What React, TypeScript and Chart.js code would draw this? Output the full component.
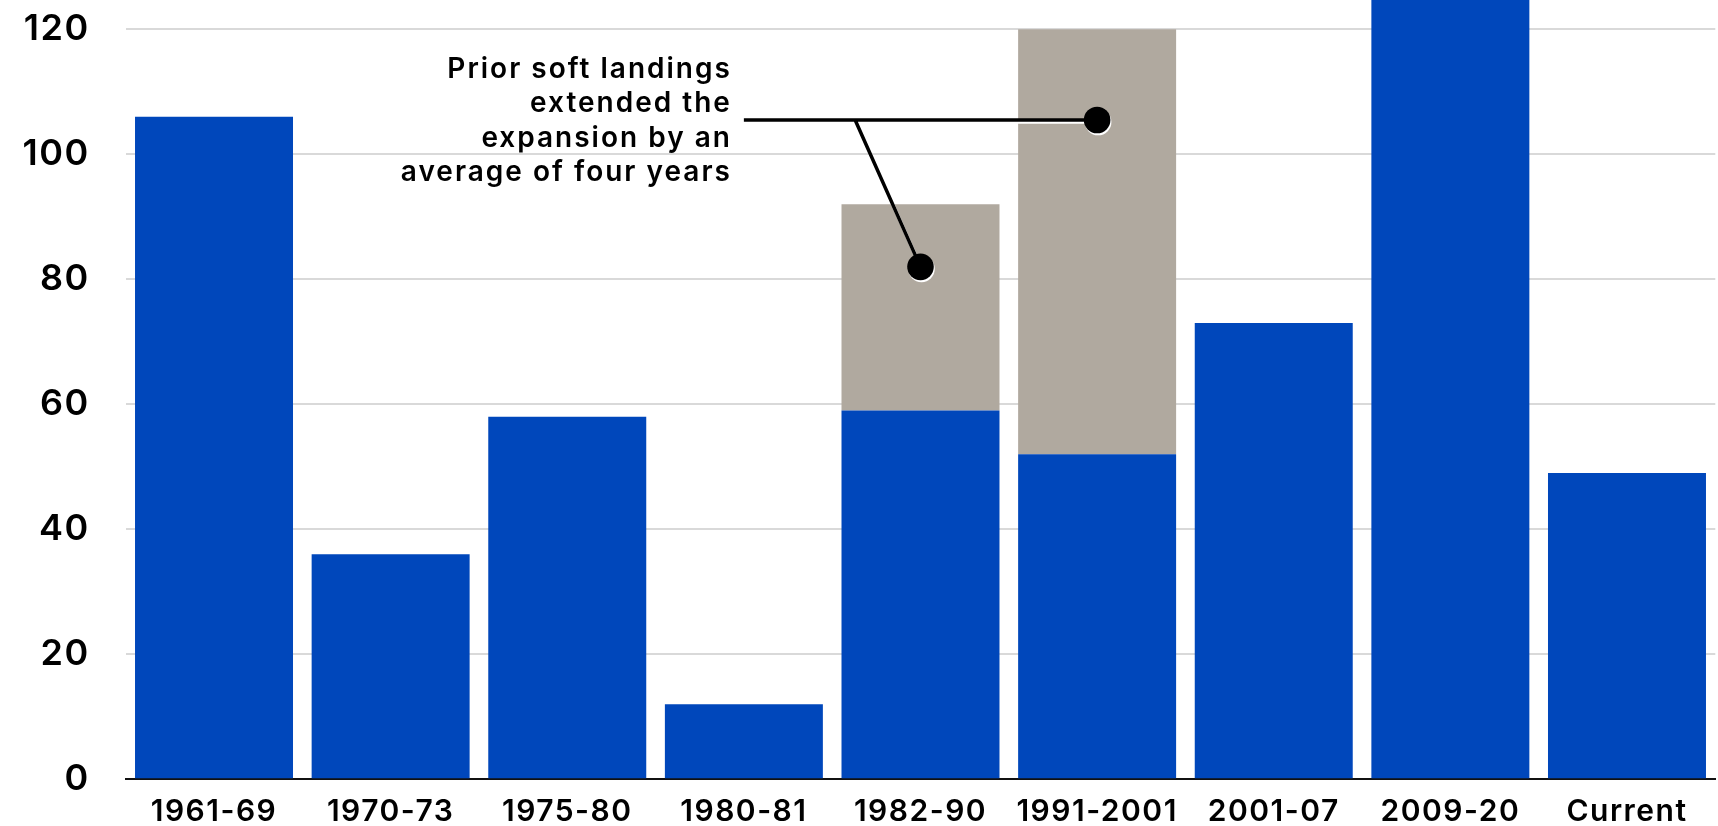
import React, { useEffect, useRef } from "react";
import { Chart, registerables } from "chart.js";

Chart.register(...registerables);

const categories = ["1961-69", "1970-73", "1975-80", "1980-81", "1982-90", "1991-2001", "2001-07", "2009-20", "Current"];
const expansionMonths = [106, 36, 58, 12, 59, 52, 73, 128, 49];
const softLandingMonths = [null, null, null, null, 33, 68, null, null, null];
const yTicks = [0, 20, 40, 60, 80, 100, 120];
const yMax = 124.7;

const calloutLines = ["Prior soft landings", "extended the", "expansion by an", "average of four years"];
const calloutLineValue = 105.5;
const calloutStartIndex = 3;
const calloutBranchIndex = 3.63;
const calloutDots = [
  { index: 4, value: 82 },
  { index: 5, value: 105.5 },
];

const BLUE = "#0047BB";
const GRAY = "#B0A99F";
const FONT = "Inter, 'Noto Sans', sans-serif";

const spacingPlugin = {
  id: "spacing",
  beforeDraw(chart: any) {
    chart.ctx.letterSpacing = "1.5px";
  },
};

const calloutPlugin = {
  id: "callout",
  afterDatasetsDraw(chart: any) {
    const { ctx, scales } = chart;
    const xs = scales.x;
    const ys = scales.y;
    const yLine = ys.getPixelForValue(calloutLineValue);
    const xStart = xs.getPixelForValue(calloutStartIndex);
    const xBranch = xs.getPixelForValue(calloutBranchIndex);
    const d1 = calloutDots[0];
    const d2 = calloutDots[1];
    const x1 = xs.getPixelForValue(d1.index);
    const y1 = ys.getPixelForValue(d1.value);
    const x2 = xs.getPixelForValue(d2.index);
    const y2 = ys.getPixelForValue(d2.value);

    ctx.save();
    const drawShape = (color: string, dx: number, dy: number) => {
      ctx.strokeStyle = color;
      ctx.fillStyle = color;
      ctx.lineWidth = 3.5;
      ctx.beginPath();
      ctx.moveTo(xStart + dx, yLine + dy);
      ctx.lineTo(x2 + dx, yLine + dy);
      ctx.moveTo(xBranch + dx, yLine + dy);
      ctx.lineTo(x1 + dx, y1 + dy);
      ctx.stroke();
      ctx.beginPath();
      ctx.arc(x1 + dx, y1 + dy, 13.3, 0, Math.PI * 2);
      ctx.fill();
      ctx.beginPath();
      ctx.arc(x2 + dx, y2 + dy, 13.3, 0, Math.PI * 2);
      ctx.fill();
    };
    drawShape("#ffffff", 1, 2);
    drawShape("#000000", 0, 0);

    ctx.fillStyle = "#000";
    ctx.font = `600 28px ${FONT}`;
    ctx.letterSpacing = "2px";
    ctx.textAlign = "right";
    ctx.textBaseline = "alphabetic";
    const right = xStart - 12;
    calloutLines.forEach((t, i) => {
      ctx.fillText(t, right, yLine + 9.5 + (i - 1.5) * 34.6);
    });
    ctx.restore();
  },
};

export default function App() {
  const ref = useRef<HTMLCanvasElement>(null);
  useEffect(() => {
    document.body.style.margin = "0";
    const canvas = ref.current!;
    const chart = new Chart(canvas, {
      type: "bar",
      data: {
        labels: categories,
        datasets: [
          { label: "Expansion", data: expansionMonths, backgroundColor: BLUE, borderWidth: 0 },
          { label: "Soft landing", data: softLandingMonths as any, backgroundColor: GRAY, borderWidth: 0 },
        ],
      },
      options: {
        animation: false,
        responsive: false,
        devicePixelRatio: 1,
        layout: { padding: { top: 0, right: 2.7, bottom: 0, left: 0 } },
        plugins: { legend: { display: false }, tooltip: { enabled: false } },
        datasets: { bar: { categoryPercentage: 1, barPercentage: 0.8945 } },
        scales: {
          x: {
            stacked: true,
            grid: { display: false, drawTicks: false },
            border: { display: true, color: "#111", width: 2 },
            ticks: { color: "#000", font: { family: FONT, size: 30, weight: 600 }, padding: 15, maxRotation: 0, autoSkip: false },
            afterFit(scale: any) {
              scale.height = 46.7;
              scale.paddingLeft = 0;
              scale.paddingRight = 0;
            },
          },
          y: {
            stacked: true,
            min: 0,
            max: yMax,
            afterBuildTicks(scale: any) {
              scale.ticks = yTicks.map((v) => ({ value: v }));
            },
            grid: {
              drawTicks: false,
              color: (c: any) => (c.tick && c.tick.value === 0 ? "rgba(0,0,0,0)" : "#D9D9D9"),
              lineWidth: 2,
            },
            border: { display: false },
            ticks: { color: "#000", font: { family: FONT, size: 36, weight: 600 }, padding: 36 },
            afterFit(scale: any) {
              scale.width = 125.7;
              scale.paddingTop = 0;
              scale.paddingBottom = 0;
            },
          },
        },
      },
      plugins: [spacingPlugin, calloutPlugin],
    });
    return () => chart.destroy();
  }, []);
  return (
    <div style={{ position: "absolute", left: 0, top: 0, width: 1718, height: 826 }}>
      <canvas ref={ref} width={1718} height={826} style={{ width: 1718, height: 826, display: "block" }} />
    </div>
  );
}
